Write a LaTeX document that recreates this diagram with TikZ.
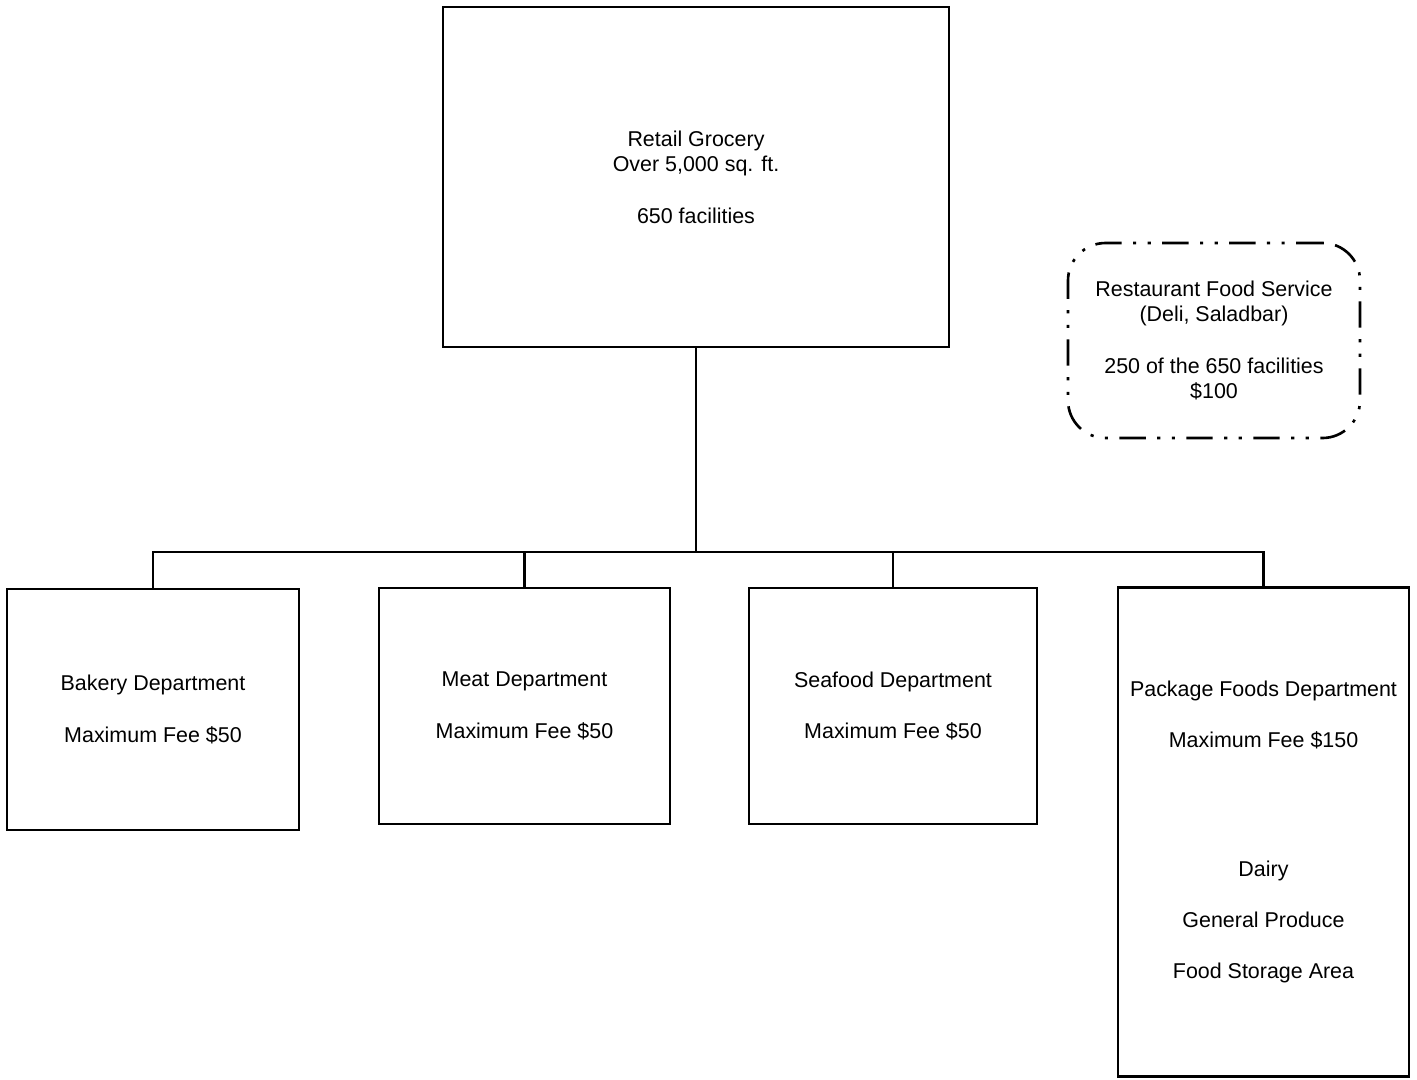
\documentclass[tikz,border=0pt]{standalone}
\usepackage{fontspec}
\setmainfont{Liberation Sans}
\begin{document}
\begin{tikzpicture}[line width=1.4pt,every text node part/.style={align=center},
    dept/.style={draw,line width=1.6pt,inner sep=0pt,font=\fontsize{12.2}{14.6}\selectfont},
    service/.style={draw,line width=1.5pt,rounded corners=0.75cm,inner sep=0pt,
      dash pattern=on 15pt off 6.5pt on 1.8pt off 6.5pt on 1.8pt off 6.5pt,
      font=\fontsize{12.2}{14.6}\selectfont}]

    \useasboundingbox (0,0) rectangle (28.34,-21.58);

    % --------------------------------------------------------- %
    % ------------- principal node (Grocery)
    % --------------------------------------------------------- %
    \node[dept,minimum width=10.12cm,minimum height=6.8cm] (grocery) at (13.92,-3.54) {Retail Grocery\\Over 5,000 sq. ft.\\[14.6pt]650 facilities};

    \node[service,minimum width=5.84cm,minimum height=3.9cm] (restaurant) at (24.28,-6.81) {Restaurant Food Service\\(Deli, Saladbar)\\[14.6pt]250 of the 650 facilities\\\$100};

    % --------------------------------------------------------- %
    % ------------ Departments
    % --------------------------------------------------------- %
    \node[dept,minimum width=5.84cm,minimum height=4.82cm] (bakery) at (3.06,-14.19) {Bakery Department\\[14.6pt]Maximum Fee \$50};
    \node[dept,minimum width=5.82cm,minimum height=4.72cm] (meat) at (10.49,-14.12) {Meat Department\\[14.6pt]Maximum Fee \$50};
    \node[dept,minimum width=5.76cm,minimum height=4.72cm] (seafood) at (17.86,-14.12) {Seafood Department\\[14.6pt]Maximum Fee \$50};
    \node[dept,minimum width=5.82cm,minimum height=9.78cm] (pkg) at (25.27,-16.64) {Package Foods Department\\[14.6pt]Maximum Fee \$150\\[58.4pt]Dairy\\[14.6pt]General Produce\\[14.6pt]Food Storage Area};

    % --------------------------------------------------------- %
    % ------------ Connectors
    % --------------------------------------------------------- %
    \coordinate (bus) at (0,-11.04);
    \draw (grocery.south) -- (grocery.south |- bus);
    \draw (bakery.north) -- (bakery.north |- bus) -- (pkg.north |- bus) -- (pkg.north);
    \draw (meat.north) -- (meat.north |- bus);
    \draw (seafood.north) -- (seafood.north |- bus);

  \end{tikzpicture}
\end{document}
